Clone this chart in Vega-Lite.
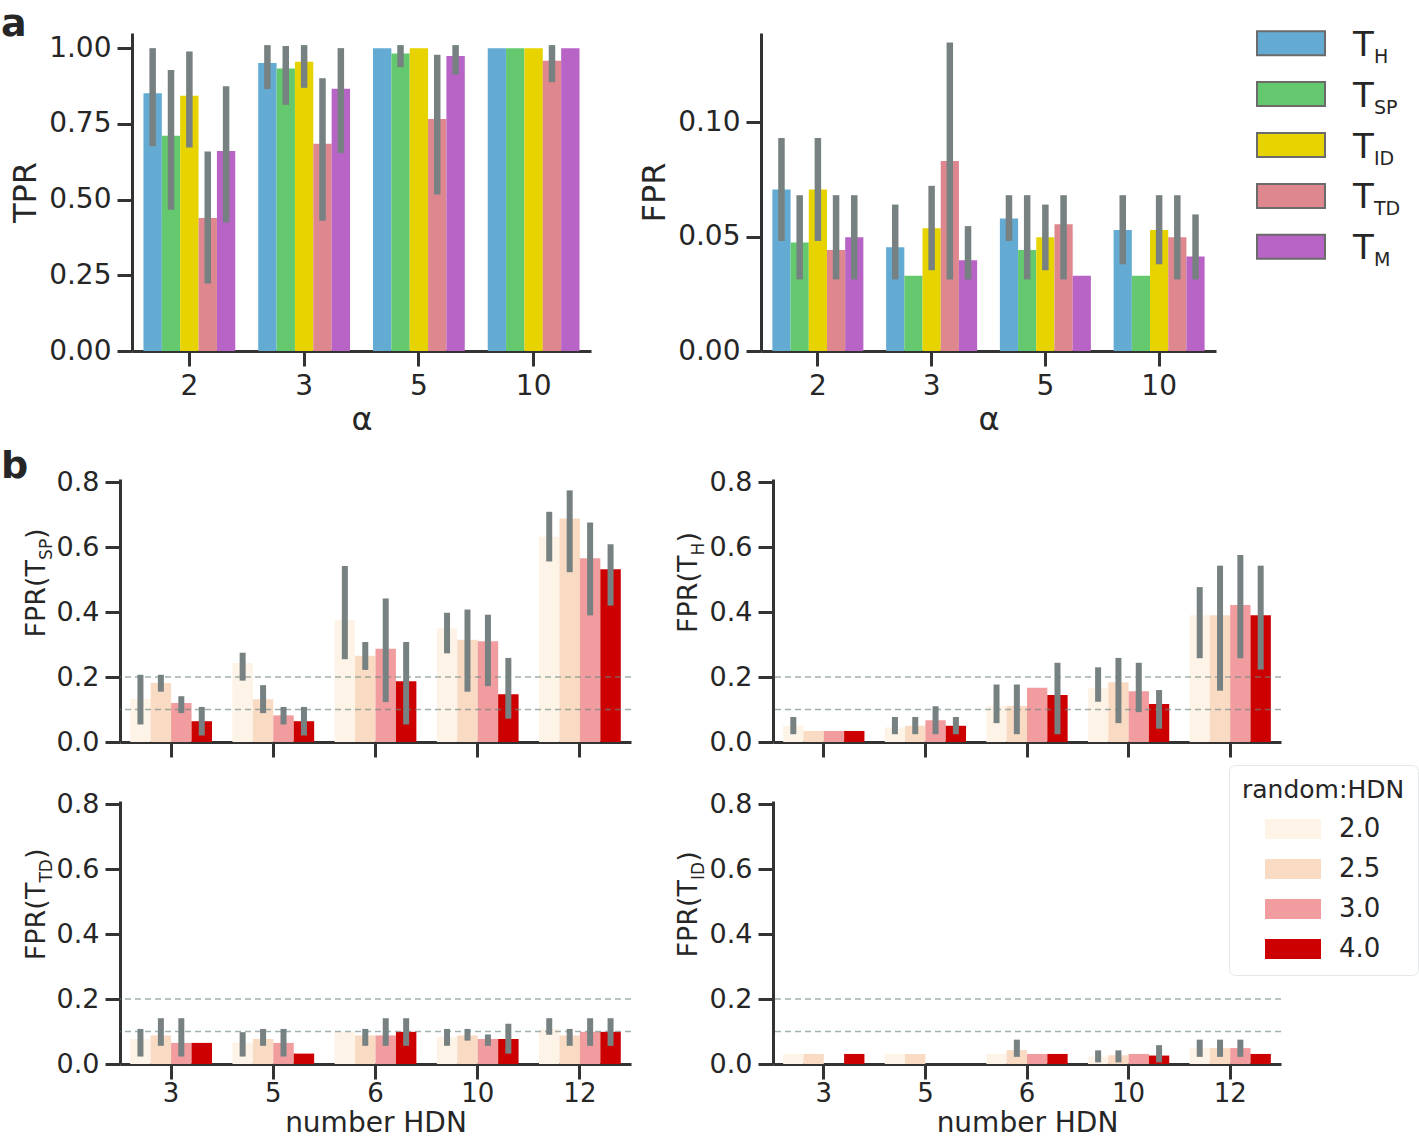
{
  "$schema": "https://vega.github.io/schema/vega-lite/v6.json",
  "background": "white",
  "padding": {"left": 1, "top": 6, "right": 0, "bottom": 0},
  "datasets": {
    "tpr": [
      {"alpha": 2, "m": "T_H", "v": 0.851, "lo": 0.676, "hi": 1.0},
      {"alpha": 2, "m": "T_SP", "v": 0.711, "lo": 0.466, "hi": 0.928},
      {"alpha": 2, "m": "T_ID", "v": 0.843, "lo": 0.672, "hi": 0.989},
      {"alpha": 2, "m": "T_TD", "v": 0.439, "lo": 0.223, "hi": 0.659},
      {"alpha": 2, "m": "T_M", "v": 0.66, "lo": 0.424, "hi": 0.874},
      {"alpha": 3, "m": "T_H", "v": 0.951, "lo": 0.865, "hi": 1.01},
      {"alpha": 3, "m": "T_SP", "v": 0.933, "lo": 0.813, "hi": 1.007},
      {"alpha": 3, "m": "T_ID", "v": 0.955, "lo": 0.869, "hi": 1.01},
      {"alpha": 3, "m": "T_TD", "v": 0.684, "lo": 0.43, "hi": 0.901},
      {"alpha": 3, "m": "T_M", "v": 0.866, "lo": 0.654, "hi": 1.0},
      {"alpha": 5, "m": "T_H", "v": 1.0},
      {"alpha": 5, "m": "T_SP", "v": 0.982, "lo": 0.937, "hi": 1.01},
      {"alpha": 5, "m": "T_ID", "v": 1.0},
      {"alpha": 5, "m": "T_TD", "v": 0.766, "lo": 0.517, "hi": 0.978},
      {"alpha": 5, "m": "T_M", "v": 0.974, "lo": 0.913, "hi": 1.01},
      {"alpha": 10, "m": "T_H", "v": 1.0},
      {"alpha": 10, "m": "T_SP", "v": 1.0},
      {"alpha": 10, "m": "T_ID", "v": 1.0},
      {"alpha": 10, "m": "T_TD", "v": 0.958, "lo": 0.888, "hi": 1.01},
      {"alpha": 10, "m": "T_M", "v": 1.0}
    ],
    "fpr": [
      {"alpha": 2, "m": "T_H", "v": 0.0706, "lo": 0.0481, "hi": 0.0931},
      {"alpha": 2, "m": "T_SP", "v": 0.0474, "lo": 0.0313, "hi": 0.0681},
      {"alpha": 2, "m": "T_ID", "v": 0.0706, "lo": 0.0481, "hi": 0.0931},
      {"alpha": 2, "m": "T_TD", "v": 0.0441, "lo": 0.0313, "hi": 0.0681},
      {"alpha": 2, "m": "T_M", "v": 0.0497, "lo": 0.0313, "hi": 0.0681},
      {"alpha": 3, "m": "T_H", "v": 0.0454, "lo": 0.0313, "hi": 0.064},
      {"alpha": 3, "m": "T_SP", "v": 0.0329},
      {"alpha": 3, "m": "T_ID", "v": 0.0537, "lo": 0.0353, "hi": 0.0722},
      {"alpha": 3, "m": "T_TD", "v": 0.0831, "lo": 0.0313, "hi": 0.1349},
      {"alpha": 3, "m": "T_M", "v": 0.0397, "lo": 0.0313, "hi": 0.0546},
      {"alpha": 5, "m": "T_H", "v": 0.0579, "lo": 0.0481, "hi": 0.0681},
      {"alpha": 5, "m": "T_SP", "v": 0.0441, "lo": 0.0313, "hi": 0.0681},
      {"alpha": 5, "m": "T_ID", "v": 0.0497, "lo": 0.0353, "hi": 0.064},
      {"alpha": 5, "m": "T_TD", "v": 0.0554, "lo": 0.0313, "hi": 0.0681},
      {"alpha": 5, "m": "T_M", "v": 0.0329},
      {"alpha": 10, "m": "T_H", "v": 0.0529, "lo": 0.0379, "hi": 0.0681},
      {"alpha": 10, "m": "T_SP", "v": 0.0329},
      {"alpha": 10, "m": "T_ID", "v": 0.0529, "lo": 0.0379, "hi": 0.0681},
      {"alpha": 10, "m": "T_TD", "v": 0.0497, "lo": 0.0313, "hi": 0.0681},
      {"alpha": 10, "m": "T_M", "v": 0.0413, "lo": 0.0313, "hi": 0.0597}
    ],
    "legA": [
      {"m": "T_H", "sub": "H"},
      {"m": "T_SP", "sub": "SP"},
      {"m": "T_ID", "sub": "ID"},
      {"m": "T_TD", "sub": "TD"},
      {"m": "T_M", "sub": "M"}
    ],
    "thr": [{"t": 0.1}, {"t": 0.2}],
    "tsp": [
      {"hdn": 3, "r": "2.0", "v": 0.133, "lo": 0.054, "hi": 0.207},
      {"hdn": 3, "r": "2.5", "v": 0.182, "lo": 0.155, "hi": 0.207},
      {"hdn": 3, "r": "3.0", "v": 0.12, "lo": 0.089, "hi": 0.141},
      {"hdn": 3, "r": "4.0", "v": 0.064, "lo": 0.02, "hi": 0.108},
      {"hdn": 5, "r": "2.0", "v": 0.243, "lo": 0.189, "hi": 0.275},
      {"hdn": 5, "r": "2.5", "v": 0.132, "lo": 0.089, "hi": 0.175},
      {"hdn": 5, "r": "3.0", "v": 0.082, "lo": 0.054, "hi": 0.108},
      {"hdn": 5, "r": "4.0", "v": 0.064, "lo": 0.02, "hi": 0.108},
      {"hdn": 6, "r": "2.0", "v": 0.376, "lo": 0.255, "hi": 0.542},
      {"hdn": 6, "r": "2.5", "v": 0.266, "lo": 0.222, "hi": 0.308},
      {"hdn": 6, "r": "3.0", "v": 0.287, "lo": 0.123, "hi": 0.442},
      {"hdn": 6, "r": "4.0", "v": 0.187, "lo": 0.054, "hi": 0.308},
      {"hdn": 10, "r": "2.0", "v": 0.35, "lo": 0.273, "hi": 0.398},
      {"hdn": 10, "r": "2.5", "v": 0.315, "lo": 0.155, "hi": 0.408},
      {"hdn": 10, "r": "3.0", "v": 0.31, "lo": 0.172, "hi": 0.392},
      {"hdn": 10, "r": "4.0", "v": 0.147, "lo": 0.072, "hi": 0.259},
      {"hdn": 12, "r": "2.0", "v": 0.632, "lo": 0.556, "hi": 0.709},
      {"hdn": 12, "r": "2.5", "v": 0.688, "lo": 0.523, "hi": 0.775},
      {"hdn": 12, "r": "3.0", "v": 0.566, "lo": 0.39, "hi": 0.676},
      {"hdn": 12, "r": "4.0", "v": 0.532, "lo": 0.42, "hi": 0.609}
    ],
    "th": [
      {"hdn": 3, "r": "2.0", "v": 0.05, "lo": 0.024, "hi": 0.077},
      {"hdn": 3, "r": "2.5", "v": 0.034},
      {"hdn": 3, "r": "3.0", "v": 0.034},
      {"hdn": 3, "r": "4.0", "v": 0.034},
      {"hdn": 5, "r": "2.0", "v": 0.045, "lo": 0.024, "hi": 0.077},
      {"hdn": 5, "r": "2.5", "v": 0.05, "lo": 0.024, "hi": 0.077},
      {"hdn": 5, "r": "3.0", "v": 0.067, "lo": 0.024, "hi": 0.11},
      {"hdn": 5, "r": "4.0", "v": 0.05, "lo": 0.024, "hi": 0.077},
      {"hdn": 6, "r": "2.0", "v": 0.111, "lo": 0.058, "hi": 0.177},
      {"hdn": 6, "r": "2.5", "v": 0.111, "lo": 0.024, "hi": 0.177},
      {"hdn": 6, "r": "3.0", "v": 0.167},
      {"hdn": 6, "r": "4.0", "v": 0.145, "lo": 0.024, "hi": 0.244},
      {"hdn": 10, "r": "2.0", "v": 0.167, "lo": 0.124, "hi": 0.23},
      {"hdn": 10, "r": "2.5", "v": 0.184, "lo": 0.058, "hi": 0.259},
      {"hdn": 10, "r": "3.0", "v": 0.156, "lo": 0.092, "hi": 0.244},
      {"hdn": 10, "r": "4.0", "v": 0.117, "lo": 0.041, "hi": 0.16},
      {"hdn": 12, "r": "2.0", "v": 0.39, "lo": 0.258, "hi": 0.477},
      {"hdn": 12, "r": "2.5", "v": 0.39, "lo": 0.158, "hi": 0.543},
      {"hdn": 12, "r": "3.0", "v": 0.422, "lo": 0.258, "hi": 0.576},
      {"hdn": 12, "r": "4.0", "v": 0.39, "lo": 0.223, "hi": 0.543}
    ],
    "ttd": [
      {"hdn": 3, "r": "2.0", "v": 0.077, "lo": 0.023, "hi": 0.108},
      {"hdn": 3, "r": "2.5", "v": 0.088, "lo": 0.056, "hi": 0.141},
      {"hdn": 3, "r": "3.0", "v": 0.065, "lo": 0.023, "hi": 0.141},
      {"hdn": 3, "r": "4.0", "v": 0.065},
      {"hdn": 5, "r": "2.0", "v": 0.065, "lo": 0.023, "hi": 0.098},
      {"hdn": 5, "r": "2.5", "v": 0.077, "lo": 0.056, "hi": 0.108},
      {"hdn": 5, "r": "3.0", "v": 0.065, "lo": 0.023, "hi": 0.108},
      {"hdn": 5, "r": "4.0", "v": 0.032},
      {"hdn": 6, "r": "2.0", "v": 0.099},
      {"hdn": 6, "r": "2.5", "v": 0.088, "lo": 0.056, "hi": 0.108},
      {"hdn": 6, "r": "3.0", "v": 0.088, "lo": 0.056, "hi": 0.141},
      {"hdn": 6, "r": "4.0", "v": 0.099, "lo": 0.056, "hi": 0.141},
      {"hdn": 10, "r": "2.0", "v": 0.083, "lo": 0.056, "hi": 0.108},
      {"hdn": 10, "r": "2.5", "v": 0.088, "lo": 0.072, "hi": 0.108},
      {"hdn": 10, "r": "3.0", "v": 0.077, "lo": 0.056, "hi": 0.091},
      {"hdn": 10, "r": "4.0", "v": 0.077, "lo": 0.032, "hi": 0.124},
      {"hdn": 12, "r": "2.0", "v": 0.108, "lo": 0.09, "hi": 0.141},
      {"hdn": 12, "r": "2.5", "v": 0.088, "lo": 0.056, "hi": 0.108},
      {"hdn": 12, "r": "3.0", "v": 0.099, "lo": 0.056, "hi": 0.141},
      {"hdn": 12, "r": "4.0", "v": 0.099, "lo": 0.056, "hi": 0.141}
    ],
    "tid": [
      {"hdn": 3, "r": "2.0", "v": 0.031},
      {"hdn": 3, "r": "2.5", "v": 0.031},
      {"hdn": 3, "r": "3.0", "v": 0},
      {"hdn": 3, "r": "4.0", "v": 0.031},
      {"hdn": 5, "r": "2.0", "v": 0.031},
      {"hdn": 5, "r": "2.5", "v": 0.031},
      {"hdn": 5, "r": "3.0", "v": 0},
      {"hdn": 5, "r": "4.0", "v": 0},
      {"hdn": 6, "r": "2.0", "v": 0.031},
      {"hdn": 6, "r": "2.5", "v": 0.043, "lo": 0.022, "hi": 0.075},
      {"hdn": 6, "r": "3.0", "v": 0.031},
      {"hdn": 6, "r": "4.0", "v": 0.031},
      {"hdn": 10, "r": "2.0", "v": 0.023, "lo": 0.005, "hi": 0.042},
      {"hdn": 10, "r": "2.5", "v": 0.027, "lo": 0.005, "hi": 0.042},
      {"hdn": 10, "r": "3.0", "v": 0.031},
      {"hdn": 10, "r": "4.0", "v": 0.026, "lo": 0.005, "hi": 0.058},
      {"hdn": 12, "r": "2.0", "v": 0.049, "lo": 0.022, "hi": 0.075},
      {"hdn": 12, "r": "2.5", "v": 0.049, "lo": 0.022, "hi": 0.075},
      {"hdn": 12, "r": "3.0", "v": 0.049, "lo": 0.022, "hi": 0.075},
      {"hdn": 12, "r": "4.0", "v": 0.031}
    ]
  },
  "spacing": 13,
  "resolve": {"scale": {"color": "independent", "xOffset": "independent"}, "legend": {"color": "independent"}},
  "vconcat": [
    {
      "hconcat": [
        {
          "width": 86, "height": 318,
          "data": {"values": [{"k": 1}]},
          "title": {"text": "a", "anchor": "start", "frame": "group", "fontSize": 38, "fontWeight": "bold", "color": "#262626", "baseline": "alphabetic", "offset": -5, "dy": 36},
          "mark": {"type": "text", "text": ""},
          "encoding": {}
        },
        {
          "width": 459, "height": 318,
          "data": {"name": "tpr"},
          "layer": [
            {
              "mark": {"type": "bar"},
              "encoding": {
                "x": {"field": "alpha", "type": "ordinal", "scale": {"paddingInner": 0.2, "paddingOuter": 0.1}, "axis": {"title": "α", "labelAngle": 0, "labelFontSize": 28, "titleFontSize": 32, "titlePadding": 4}},
                "xOffset": {"field": "m", "type": "nominal", "scale": {"domain": ["T_H", "T_SP", "T_ID", "T_TD", "T_M"], "paddingInner": 0, "paddingOuter": 0}},
                "y": {"field": "v", "type": "quantitative", "scale": {"domain": [0, 1.05], "nice": false}, "axis": {"title": "TPR", "values": [0, 0.25, 0.5, 0.75, 1], "format": ".2f", "labelFontSize": 28, "titleFontSize": 32, "titlePadding": 6}},
                "color": {"field": "m", "type": "nominal", "scale": {"domain": ["T_H", "T_SP", "T_ID", "T_TD", "T_M"], "range": ["#64abd3", "#64c96e", "#e7d300", "#de878f", "#b864c6"]}, "legend": null}
              }
            },
            {
              "transform": [{"filter": "datum.lo != null"}],
              "mark": {"type": "rule", "strokeWidth": 6.5, "color": "#778181"},
              "encoding": {
                "x": {"field": "alpha", "type": "ordinal"},
                "xOffset": {"field": "m", "type": "nominal"},
                "y": {"field": "lo", "type": "quantitative", "title": "TPR"},
                "y2": {"field": "hi"}
              }
            }
          ]
        },
        {
          "width": 80, "height": 318,
          "data": {"values": [{"k": 1}]},
          "mark": {"type": "text", "text": ""},
          "encoding": {}
        },
        {
          "width": 455, "height": 318,
          "data": {"name": "fpr"},
          "layer": [
            {
              "mark": {"type": "bar"},
              "encoding": {
                "x": {"field": "alpha", "type": "ordinal", "scale": {"paddingInner": 0.2, "paddingOuter": 0.1}, "axis": {"title": "α", "labelAngle": 0, "labelFontSize": 28, "titleFontSize": 32, "titlePadding": 4}},
                "xOffset": {"field": "m", "type": "nominal", "scale": {"domain": ["T_H", "T_SP", "T_ID", "T_TD", "T_M"], "paddingInner": 0, "paddingOuter": 0}},
                "y": {"field": "v", "type": "quantitative", "scale": {"domain": [0, 0.139], "nice": false}, "axis": {"title": "FPR", "values": [0, 0.05, 0.1], "format": ".2f", "labelFontSize": 28, "titleFontSize": 32, "titlePadding": 6}},
                "color": {"field": "m", "type": "nominal", "scale": {"domain": ["T_H", "T_SP", "T_ID", "T_TD", "T_M"], "range": ["#64abd3", "#64c96e", "#e7d300", "#de878f", "#b864c6"]}, "legend": null}
              }
            },
            {
              "transform": [{"filter": "datum.lo != null"}],
              "mark": {"type": "rule", "strokeWidth": 6.5, "color": "#778181"},
              "encoding": {
                "x": {"field": "alpha", "type": "ordinal"},
                "xOffset": {"field": "m", "type": "nominal"},
                "y": {"field": "lo", "type": "quantitative", "title": "FPR"},
                "y2": {"field": "hi"}
              }
            }
          ]
        },
        {
          "width": 60, "height": 224,
          "data": {"name": "legA"},
          "encoding": {
            "y": {"field": "m", "type": "nominal", "scale": {"type": "point", "domain": ["T_H", "T_SP", "T_ID", "T_TD", "T_M"], "padding": 0.2}, "axis": null}
          },
          "layer": [
            {
              "mark": {"type": "point", "shape": "M-1,-0.353H1V0.353H-1Z", "size": 4624, "filled": true, "opacity": 1, "stroke": "#6b6b6b", "strokeWidth": 2},
              "encoding": {
                "fill": {"field": "m", "type": "nominal", "scale": {"domain": ["T_H", "T_SP", "T_ID", "T_TD", "T_M"], "range": ["#64abd3", "#64c96e", "#e7d300", "#de878f", "#b864c6"]}, "legend": null}
              }
            },
            {
              "mark": {"type": "text", "text": "T", "align": "left", "baseline": "alphabetic", "fontSize": 34, "dx": 62, "dy": 12.5, "color": "#262626"}
            },
            {
              "mark": {"type": "text", "align": "left", "baseline": "alphabetic", "fontSize": 19, "dx": 83, "dy": 19.5, "color": "#262626"},
              "encoding": {"text": {"field": "sub"}}
            }
          ]
        }
      ],
      "spacing": 45,
      "bounds": "flush",
      "resolve": {"scale": {"xOffset": "independent"}}
    },
    {
      "concat": [
        {
          "width": 74, "height": 263,
          "data": {"values": [{"k": 1}]},
          "title": {"text": "b", "anchor": "start", "frame": "group", "fontSize": 38, "fontWeight": "bold", "color": "#262626", "baseline": "alphabetic", "offset": -2, "dy": 35},
          "layer": [
            {"mark": {"type": "text", "text": "FPR(T", "angle": 270, "align": "left", "baseline": "alphabetic", "fontSize": 27, "dx": -27, "dy": 7, "color": "#262626"}, "encoding": {}},
            {"mark": {"type": "text", "text": "SP", "angle": 270, "align": "left", "baseline": "alphabetic", "fontSize": 17, "dx": 50.6, "dy": 14, "color": "#262626"}, "encoding": {}},
            {"mark": {"type": "text", "text": ")", "angle": 270, "align": "left", "baseline": "alphabetic", "fontSize": 27, "dx": 71.6, "dy": 7, "color": "#262626"}, "encoding": {}}
          ]
        },
        {
          "width": 511, "height": 263,
          "data": {"name": "tsp"},
          "layer": [
            {
              "mark": {"type": "bar"},
              "encoding": {
                "x": {"field": "hdn", "type": "ordinal", "scale": {"paddingInner": 0.2, "paddingOuter": 0.1}, "axis": {"title": null, "labels": false}},
                "xOffset": {"field": "r", "type": "nominal", "scale": {"domain": ["2.0", "2.5", "3.0", "4.0"], "paddingInner": 0, "paddingOuter": 0}},
                "y": {"field": "v", "type": "quantitative", "scale": {"domain": [0, 0.81], "nice": false}, "axis": {"title": null, "values": [0, 0.2, 0.4, 0.6, 0.8], "format": ".1f"}},
                "color": {"field": "r", "type": "nominal", "scale": {"domain": ["2.0", "2.5", "3.0", "4.0"], "range": ["#fdf3e7", "#f9dbc4", "#f19c9e", "#cc0000"]}, "legend": null}
              }
            },
            {
              "transform": [{"filter": "datum.lo != null"}],
              "mark": {"type": "rule", "strokeWidth": 6, "color": "#778181"},
              "encoding": {
                "x": {"field": "hdn", "type": "ordinal"},
                "xOffset": {"field": "r", "type": "nominal"},
                "y": {"field": "lo", "type": "quantitative", "axis": {"title": null}},
                "y2": {"field": "hi"}
              }
            },
            {
              "data": {"name": "thr"},
              "mark": {"type": "rule", "strokeDash": [6, 4], "strokeWidth": 1.5, "color": "#6f8585", "opacity": 0.65},
              "encoding": {"y": {"field": "t", "type": "quantitative", "axis": {"title": null}}}
            }
          ]
        },
        {
          "width": 52, "height": 263,
          "data": {"values": [{"k": 1}]},
          "layer": [
            {"mark": {"type": "text", "text": "FPR(T", "angle": 270, "align": "left", "baseline": "alphabetic", "fontSize": 27, "dx": -22.5, "dy": -5, "color": "#262626"}, "encoding": {}},
            {"mark": {"type": "text", "text": "H", "angle": 270, "align": "left", "baseline": "alphabetic", "fontSize": 17, "dx": 55.1, "dy": 2, "color": "#262626"}, "encoding": {}},
            {"mark": {"type": "text", "text": ")", "angle": 270, "align": "left", "baseline": "alphabetic", "fontSize": 27, "dx": 67.9, "dy": -5, "color": "#262626"}, "encoding": {}}
          ]
        },
        {
          "width": 508, "height": 263,
          "data": {"name": "th"},
          "layer": [
            {
              "mark": {"type": "bar"},
              "encoding": {
                "x": {"field": "hdn", "type": "ordinal", "scale": {"paddingInner": 0.2, "paddingOuter": 0.1}, "axis": {"title": null, "labels": false}},
                "xOffset": {"field": "r", "type": "nominal", "scale": {"domain": ["2.0", "2.5", "3.0", "4.0"], "paddingInner": 0, "paddingOuter": 0}},
                "y": {"field": "v", "type": "quantitative", "scale": {"domain": [0, 0.81], "nice": false}, "axis": {"title": null, "values": [0, 0.2, 0.4, 0.6, 0.8], "format": ".1f"}},
                "color": {"field": "r", "type": "nominal", "scale": {"domain": ["2.0", "2.5", "3.0", "4.0"], "range": ["#fdf3e7", "#f9dbc4", "#f19c9e", "#cc0000"]}, "legend": null}
              }
            },
            {
              "transform": [{"filter": "datum.lo != null"}],
              "mark": {"type": "rule", "strokeWidth": 6, "color": "#778181"},
              "encoding": {
                "x": {"field": "hdn", "type": "ordinal"},
                "xOffset": {"field": "r", "type": "nominal"},
                "y": {"field": "lo", "type": "quantitative", "axis": {"title": null}},
                "y2": {"field": "hi"}
              }
            },
            {
              "data": {"name": "thr"},
              "mark": {"type": "rule", "strokeDash": [6, 4], "strokeWidth": 1.5, "color": "#6f8585", "opacity": 0.65},
              "encoding": {"y": {"field": "t", "type": "quantitative", "axis": {"title": null}}}
            }
          ]
        },
        {
          "width": 74, "height": 263,
          "data": {"values": [{"k": 1}]},
          "layer": [
            {"mark": {"type": "text", "text": "FPR(T", "angle": 270, "align": "left", "baseline": "alphabetic", "fontSize": 27, "dx": -27.7, "dy": 7, "color": "#262626"}, "encoding": {}},
            {"mark": {"type": "text", "text": "TD", "angle": 270, "align": "left", "baseline": "alphabetic", "fontSize": 17, "dx": 49.9, "dy": 14, "color": "#262626"}, "encoding": {}},
            {"mark": {"type": "text", "text": ")", "angle": 270, "align": "left", "baseline": "alphabetic", "fontSize": 27, "dx": 73.4, "dy": 7, "color": "#262626"}, "encoding": {}}
          ]
        },
        {
          "width": 511, "height": 263,
          "data": {"name": "ttd"},
          "layer": [
            {
              "mark": {"type": "bar"},
              "encoding": {
                "x": {"field": "hdn", "type": "ordinal", "scale": {"paddingInner": 0.2, "paddingOuter": 0.1}, "axis": {"title": "number HDN", "labelAngle": 0, "labelFontSize": 26, "titleFontSize": 28, "labelPadding": 1, "titlePadding": 3}},
                "xOffset": {"field": "r", "type": "nominal", "scale": {"domain": ["2.0", "2.5", "3.0", "4.0"], "paddingInner": 0, "paddingOuter": 0}},
                "y": {"field": "v", "type": "quantitative", "scale": {"domain": [0, 0.81], "nice": false}, "axis": {"title": null, "values": [0, 0.2, 0.4, 0.6, 0.8], "format": ".1f"}},
                "color": {"field": "r", "type": "nominal", "scale": {"domain": ["2.0", "2.5", "3.0", "4.0"], "range": ["#fdf3e7", "#f9dbc4", "#f19c9e", "#cc0000"]}, "legend": null}
              }
            },
            {
              "transform": [{"filter": "datum.lo != null"}],
              "mark": {"type": "rule", "strokeWidth": 6, "color": "#778181"},
              "encoding": {
                "x": {"field": "hdn", "type": "ordinal"},
                "xOffset": {"field": "r", "type": "nominal"},
                "y": {"field": "lo", "type": "quantitative", "axis": {"title": null}},
                "y2": {"field": "hi"}
              }
            },
            {
              "data": {"name": "thr"},
              "mark": {"type": "rule", "strokeDash": [6, 4], "strokeWidth": 1.5, "color": "#6f8585", "opacity": 0.65},
              "encoding": {"y": {"field": "t", "type": "quantitative", "axis": {"title": null}}}
            }
          ]
        },
        {
          "width": 52, "height": 263,
          "data": {"values": [{"k": 1}]},
          "layer": [
            {"mark": {"type": "text", "text": "FPR(T", "angle": 270, "align": "left", "baseline": "alphabetic", "fontSize": 27, "dx": -25, "dy": -5, "color": "#262626"}, "encoding": {}},
            {"mark": {"type": "text", "text": "ID", "angle": 270, "align": "left", "baseline": "alphabetic", "fontSize": 17, "dx": 52.6, "dy": 2, "color": "#262626"}, "encoding": {}},
            {"mark": {"type": "text", "text": ")", "angle": 270, "align": "left", "baseline": "alphabetic", "fontSize": 27, "dx": 70.7, "dy": -5, "color": "#262626"}, "encoding": {}}
          ]
        },
        {
          "width": 508, "height": 263,
          "data": {"name": "tid"},
          "layer": [
            {
              "mark": {"type": "bar"},
              "encoding": {
                "x": {"field": "hdn", "type": "ordinal", "scale": {"paddingInner": 0.2, "paddingOuter": 0.1}, "axis": {"title": "number HDN", "labelAngle": 0, "labelFontSize": 26, "titleFontSize": 28, "labelPadding": 1, "titlePadding": 3}},
                "xOffset": {"field": "r", "type": "nominal", "scale": {"domain": ["2.0", "2.5", "3.0", "4.0"], "paddingInner": 0, "paddingOuter": 0}},
                "y": {"field": "v", "type": "quantitative", "scale": {"domain": [0, 0.81], "nice": false}, "axis": {"title": null, "values": [0, 0.2, 0.4, 0.6, 0.8], "format": ".1f"}},
                "color": {"field": "r", "type": "nominal", "scale": {"domain": ["2.0", "2.5", "3.0", "4.0"], "range": ["#fdf3e7", "#f9dbc4", "#f19c9e", "#cc0000"]},
                  "legend": {"orient": "none", "legendX": 456, "legendY": -36, "title": "random:HDN", "titleFontSize": 25, "titleFontWeight": "normal", "titleColor": "#262626", "titleFont": "DejaVu Sans", "titlePadding": 13, "labelFontSize": 26, "labelFont": "DejaVu Sans", "labelColor": "#262626", "symbolType": "M-2.8,-1H2.8V1H-2.8Z", "symbolSize": 400, "symbolStrokeWidth": 0, "symbolOpacity": 1, "symbolOffset": 38, "labelOffset": 33, "padding": 13, "rowPadding": 14, "strokeColor": "#e4e8e8", "fillColor": "white", "cornerRadius": 6}}
              }
            },
            {
              "transform": [{"filter": "datum.lo != null"}],
              "mark": {"type": "rule", "strokeWidth": 6, "color": "#778181"},
              "encoding": {
                "x": {"field": "hdn", "type": "ordinal"},
                "xOffset": {"field": "r", "type": "nominal"},
                "y": {"field": "lo", "type": "quantitative", "axis": {"title": null}},
                "y2": {"field": "hi"}
              }
            },
            {
              "data": {"name": "thr"},
              "mark": {"type": "rule", "strokeDash": [6, 4], "strokeWidth": 1.5, "color": "#6f8585", "opacity": 0.65},
              "encoding": {"y": {"field": "t", "type": "quantitative", "axis": {"title": null}}}
            }
          ]
        }
      ],
      "columns": 4,
      "spacing": {"row": 59, "column": 45},
      "bounds": "flush",
      "resolve": {"scale": {"color": "independent", "xOffset": "independent"}, "legend": {"color": "independent"}}
    }
  ],
  "config": {
    "view": {"stroke": null},
    "font": "DejaVu Sans",
    "axis": {"domainColor": "#333333", "domainWidth": 3, "tickColor": "#333333", "tickWidth": 3, "tickSize": 15, "labelColor": "#262626", "titleColor": "#262626", "labelFont": "DejaVu Sans", "titleFont": "DejaVu Sans", "titleFontWeight": "normal", "grid": false, "labelPadding": 6, "labelFontSize": 27, "titleFontSize": 28},
    "title": {"font": "DejaVu Sans"}
  }
}
